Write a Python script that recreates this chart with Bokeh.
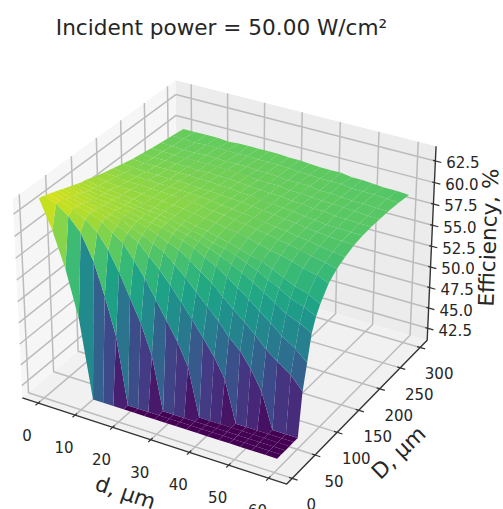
import numpy as np
from bokeh.plotting import figure
from bokeh.models import Range1d, ColumnDataSource
from bokeh.palettes import Viridis256
from bokeh.embed import file_html
from bokeh.resources import INLINE
from bokeh.core.properties import value

title_text = "Incident power = 50.00 W/cm²"
d_label = "d, μm"
D_label = "D, μm"
z_label = "Efficiency, %"

d_ticks = [0, 10, 20, 30, 40, 50, 60]
D_ticks = [0, 50, 100, 150, 200, 250, 300]
z_ticks = [42.5, 45.0, 47.5, 50.0, 52.5, 55.0, 57.5, 60.0, 62.5]

d_values = [0, 3.2, 6.3, 9.4, 12.5, 15.2, 17.9, 20.6, 23.3, 26, 28.7, 31.5, 34.2, 37, 39.8, 42.5, 45.3, 48, 50.8, 53.6, 57, 60]
D_values = [6, 15, 24, 33, 42, 51, 60, 69, 78, 87, 96, 114, 132, 150, 170, 190, 210, 230, 250, 275, 300]

eff_6 = [64.0,60.8,56.8,51.5,42.3,42.3,42.3,42.3,42.3,42.3,42.3,42.3,42.3,42.3,42.3,42.3,42.3,42.3,42.3,42.3,42.3,42.3]
eff_15 = [63.9,63.4,62.4,60.9,58.1,54.4,50.1,42.3,42.3,42.3,42.3,42.3,42.3,42.3,42.3,42.3,42.3,42.3,42.3,42.3,42.3,42.3]
eff_24 = [63.7,63.3,62.7,62.0,60.9,59.3,57.1,54.5,51.9,48.5,42.3,42.3,42.3,42.3,42.3,42.3,42.3,42.3,42.3,42.3,42.3,42.3]
eff_33 = [63.5,63.1,62.7,62.3,61.7,60.8,60.0,58.4,56.7,54.7,52.6,50.5,47.9,42.3,42.3,42.3,42.3,42.3,42.3,42.3,42.3,42.3]
eff_42 = [63.3,62.9,62.6,62.2,61.8,61.2,60.7,60.0,58.8,57.6,56.2,54.6,53.0,51.2,49.4,47.2,42.3,42.3,42.3,42.3,42.3,42.3]
eff_51 = [63.1,62.7,62.3,62.1,61.7,61.5,60.9,60.4,59.8,59.2,58.1,57.0,55.7,54.4,53.1,51.6,50.4,48.7,46.4,42.3,42.3,42.3]
eff_60 = [62.9,62.6,62.2,62.0,61.8,61.5,61.2,60.8,60.4,59.8,59.4,58.5,57.6,56.7,55.5,54.4,53.3,52.2,50.9,49.9,48.8,47.3]
eff_69 = [62.7,62.3,62.0,61.9,61.6,61.5,61.2,61.0,60.8,60.4,60.0,59.5,58.8,58.1,57.3,56.4,55.5,54.5,53.5,52.4,51.4,50.2]
eff_78 = [62.5,62.1,62.0,61.8,61.6,61.5,61.3,61.1,60.9,60.5,60.2,59.8,59.4,58.9,58.3,57.7,57.0,56.2,55.4,54.5,53.9,53.1]
eff_87 = [62.3,62.0,61.8,61.7,61.5,61.3,61.2,61.1,60.9,60.6,60.3,60.0,59.6,59.3,58.9,58.4,57.9,57.2,56.6,55.8,55.3,54.6]
eff_96 = [62.2,61.9,61.8,61.6,61.5,61.3,61.2,61.1,60.9,60.7,60.4,60.2,59.9,59.6,59.2,58.8,58.5,58.0,57.4,56.8,56.3,55.6]
eff_114 = [61.8,61.6,61.4,61.4,61.3,61.2,61.1,61.0,60.9,60.7,60.5,60.3,60.1,59.9,59.6,59.3,58.9,58.7,58.4,58.0,57.6,57.1]
eff_132 = [61.5,61.4,61.2,61.2,61.1,61.1,61.0,61.0,60.9,60.7,60.5,60.4,60.2,60.0,59.8,59.6,59.3,59.1,58.8,58.5,58.2,57.9]
eff_150 = [61.2,61.1,61.0,61.0,60.9,60.9,60.8,60.8,60.7,60.6,60.4,60.3,60.1,60.0,59.8,59.6,59.5,59.2,59.1,58.8,58.6,58.4]
eff_170 = [60.9,60.8,60.7,60.7,60.6,60.7,60.6,60.5,60.5,60.4,60.3,60.2,60.1,59.9,59.8,59.6,59.5,59.3,59.2,59.0,58.9,58.8]
eff_190 = [60.6,60.5,60.5,60.5,60.5,60.5,60.4,60.4,60.3,60.3,60.1,60.1,59.9,59.8,59.7,59.6,59.4,59.3,59.1,59.1,59.0,59.0]
eff_210 = [60.4,60.3,60.3,60.3,60.3,60.2,60.3,60.2,60.2,60.1,60.0,59.9,59.8,59.8,59.6,59.6,59.4,59.4,59.2,59.2,59.1,59.1]
eff_230 = [60.2,60.2,60.1,60.1,60.1,60.1,60.1,60.1,60.0,60.0,59.8,59.8,59.8,59.6,59.6,59.5,59.4,59.4,59.3,59.2,59.1,59.1]
eff_250 = [60.0,60.0,59.9,59.9,60.0,59.9,59.9,59.9,59.9,59.8,59.8,59.7,59.6,59.6,59.6,59.4,59.4,59.3,59.2,59.2,59.1,59.1]
eff_275 = [59.8,59.8,59.7,59.8,59.8,59.8,59.7,59.8,59.7,59.7,59.7,59.6,59.5,59.5,59.4,59.4,59.4,59.2,59.2,59.2,59.1,59.0]
eff_300 = [59.6,59.6,59.6,59.6,59.5,59.6,59.6,59.6,59.6,59.6,59.5,59.5,59.4,59.3,59.3,59.3,59.1,59.1,59.0,58.9,58.9,58.8]

eff_rows = [eff_6, eff_15, eff_24, eff_33, eff_42, eff_51, eff_60, eff_69, eff_78, eff_87, eff_96,
            eff_114, eff_132, eff_150, eff_170, eff_190, eff_210, eff_230, eff_250, eff_275, eff_300]

XLIM = (-4.3, 64.5)
YLIM = (-12.0, 318.0)
ZLIM = (41.0, 64.2)
COLOR_MIN, COLOR_MAX = 42.3, 65.0

# matplotlib-style mplot3d camera (elev 30, azim -60, dist 10)
half = np.array([0.595, 0.595, 0.4465])
n = np.array([0.4330127, -0.75, 0.5])
r = np.array([0.8660254, 0.5, 0.0])
v = np.array([-0.25, 0.4330127, 0.8660254])


def proj(x, y, z):
    qx = ((np.asarray(x, float) - XLIM[0]) / (XLIM[1] - XLIM[0]) * 2 - 1) * half[0]
    qy = ((np.asarray(y, float) - YLIM[0]) / (YLIM[1] - YLIM[0]) * 2 - 1) * half[1]
    qz = ((np.asarray(z, float) - ZLIM[0]) / (ZLIM[1] - ZLIM[0]) * 2 - 1) * half[2]
    depth = 10 - (n[0] * qx + n[1] * qy + n[2] * qz)
    return (r[0] * qx + r[1] * qy) / depth, (v[0] * qx + v[1] * qy + v[2] * qz) / depth, depth


SX, OX, SY, OY = 2545.0, 228.0, 2540.0, 272.0
W, H = 503, 509


def px(sx, sy):
    return (sx - OX) / SX, (OY - sy) / SY


p = figure(width=W, height=H, output_backend="svg", toolbar_location=None,
           x_range=Range1d((0 - OX) / SX, (W - OX) / SX),
           y_range=Range1d((OY - H) / SY, (OY - 0) / SY),
           min_border=0, outline_line_color=None)
p.axis.visible = False
p.grid.visible = False
p.background_fill_color = "white"
p.border_fill_color = "white"


def pane(pts, color):
    a = np.array(pts, float)
    X, Y, _ = proj(a[:, 0], a[:, 1], a[:, 2])
    p.patch(list(X), list(Y), fill_color=color, line_color=None)


x0, x1 = XLIM
y0, y1 = YLIM
z0, z1 = ZLIM
pane([(x0, y0, z0), (x0, y1, z0), (x0, y1, z1), (x0, y0, z1)], "#f6f6f6")
pane([(x0, y1, z0), (x1, y1, z0), (x1, y1, z1), (x0, y1, z1)], "#ececec")
pane([(x0, y0, z0), (x1, y0, z0), (x1, y1, z0), (x0, y1, z0)], "#f1f1f1")


def polyline(pts, color, width):
    a = np.array(pts, float)
    X, Y, _ = proj(a[:, 0], a[:, 1], a[:, 2])
    p.line(list(X), list(Y), line_color=color, line_width=width)


GRID, GW = "#bcbcbc", 1.5
for t in d_ticks:
    polyline([(t, y0, z0), (t, y1, z0), (t, y1, z1)], GRID, GW)
for t in D_ticks:
    polyline([(x1, t, z0), (x0, t, z0), (x0, t, z1)], GRID, GW)
for t in z_ticks:
    polyline([(x1, y1, t), (x0, y1, t), (x0, y0, t)], GRID, GW)

AXC, AXW = "#333333", 1.4
polyline([(x0, y0, z0), (x1, y0, z0), (x1, y1, z0), (x1, y1, z1)], AXC, AXW)
for t in d_ticks:
    polyline([(t, y0 - 5, z0), (t, y0 + 4, z0)], AXC, 1.2)
for t in D_ticks:
    polyline([(x1 + 1.3, t, z0), (x1 - 0.8, t, z0)], AXC, 1.2)
for t in z_ticks:
    polyline([(x1 + 1.5, y1, t), (x1 - 0.6, y1, t)], AXC, 1.2)

# surface
faces = []
for i in range(len(D_values) - 1):
    for j in range(len(d_values) - 1):
        xs = [d_values[j], d_values[j + 1], d_values[j + 1], d_values[j]]
        ys = [D_values[i], D_values[i], D_values[i + 1], D_values[i + 1]]
        zs = [eff_rows[i][j], eff_rows[i][j + 1], eff_rows[i + 1][j + 1], eff_rows[i + 1][j]]
        X, Y, dep = proj(xs, ys, zs)
        level = (np.mean(zs) - COLOR_MIN) / (COLOR_MAX - COLOR_MIN)
        faces.append((float(np.mean(dep)), list(X), list(Y), Viridis256[min(255, int(level * 256))]))
faces.sort(key=lambda f: -f[0])
p.patches(xs=[f[1] for f in faces], ys=[f[2] for f in faces],
          fill_color=[f[3] for f in faces], line_color=None)

FONT = value("DejaVu Sans")
TXT = "#262626"


def ticklabels(xs, ys, zs, labels, dx, dy):
    X, Y, _ = proj(xs, ys, zs)
    src = ColumnDataSource(dict(x=list(X), y=list(Y), t=labels))
    p.text("x", "y", text="t", source=src, x_offset=dx, y_offset=dy, text_align="center",
           text_baseline="middle", text_font=FONT, text_font_size="15px", text_color=TXT)


ticklabels(d_ticks, [y0] * 7, [z0] * 7, [str(t) for t in d_ticks], -11, 32)
ticklabels([x1] * 7, D_ticks, [z0] * 7, [str(t) for t in D_ticks], 19, 26)
ticklabels([x1] * 9, [y1] * 9, z_ticks, ["%.1f" % t for t in z_ticks], 27.5, 1.5)


def label(text, sx, sy, angle=0.0, size="21.6px"):
    X, Y = px(sx, sy)
    p.text([X], [Y], text=[text], angle=[np.deg2rad(angle)], text_align="center", text_baseline="middle",
           text_font=FONT, text_font_size=size, text_color=TXT)


label(title_text, 221, 27)
label(d_label, 125, 492, -19)
label(D_label, 398, 452, 44)
label(z_label, 488, 237, 88)

open("out.html", "w").write(file_html(p, INLINE))
